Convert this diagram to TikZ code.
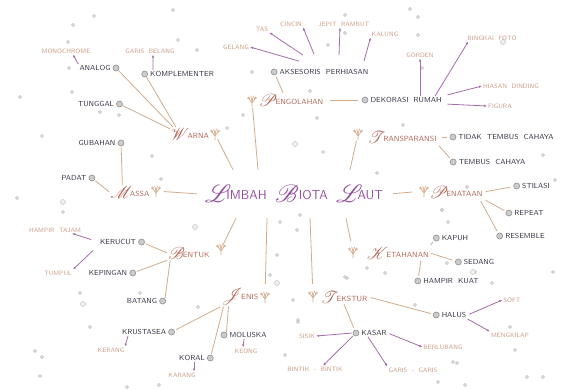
\documentclass[tikz,border=0pt]{standalone}
\usepackage{mathrsfs}
\usetikzlibrary{positioning,arrows.meta}

\definecolor{ungu}{RGB}{150,80,160}
\definecolor{cokelat}{RGB}{180,105,90}
\definecolor{tangkai}{RGB}{212,172,138}
\definecolor{pudar}{RGB}{205,158,138}
\definecolor{tinta}{RGB}{55,55,70}

% huruf awal berhias
\newcommand{\hias}[1]{{\fontsize{16}{16}\selectfont\raisebox{-1.5pt}{$\mathscr{#1}$}}\kern-2pt}
\newcommand{\hiasbesar}[2][-5pt]{{\fontsize{30}{30}\selectfont\raisebox{-3pt}{$\mathscr{#2}$}}\kern#1}

\tikzset{
  judul/.style={text=ungu, font=\fontsize{13}{13}\selectfont\sffamily,
    minimum width=190pt, minimum height=48pt, inner sep=0pt},
  cabang/.style={text=cokelat, font=\fontsize{7.5}{8}\selectfont\sffamily, inner sep=1pt},
  sub/.style={text=tinta, font=\fontsize{7.3}{8}\selectfont\sffamily, inner sep=1pt},
  ujung/.style={text=pudar, font=\fontsize{6.3}{7}\selectfont\sffamily, inner sep=1pt},
  bul/.style={circle, draw=gray!80, fill=gray!40, line width=0.7pt,
    minimum size=6pt, inner sep=0pt},
  titik/.style={circle, draw=gray!55, fill=gray!12, line width=0.4pt,
    minimum size=#1, inner sep=0pt},
  titik/.default=3pt,
  stem/.style={draw=tangkai, line width=0.8pt},
  arr/.style={draw=ungu!85, line width=0.8pt, -{Latex[length=3pt,width=2.4pt]}},
  daun/.pic={
    \draw[tangkai, line width=0.7pt, line cap=round]
      (0,6) -- (0,0) (0,2) -- (-3.5,-3) (0,2) -- (3.5,-3)
      (0,0) -- (-1.2,-5) (0,0) -- (1.5,-5);
    \draw[tangkai, line width=0.5pt] (-3.5,-3) circle (1) (3.5,-3) circle (1);
  }
}

\begin{document}
\begin{tikzpicture}[x=1pt,y=-1pt]
  \useasboundingbox[fill=white] (0,0) rectangle (564,390);

  % Bintik hiasan
  \foreach \p in {(73,25),(94,16),(68,42),(69,68),(72,92),(100,112),(119,115),
      (20,97),(178,40),(197,50),(173,10),(252,72),(310,91),(328,45),(345,15),
      (345,33),(317,118),(243,115),(410,9),(418,17),(418,35),(422,68),(403,125),
      (42,136),(152,156),(161,179),(17,198),(63,212),(227,128),(323,152),
      (280,222),(297,230),(300,215),(377,173),(543,155),(555,180),(467,187),
      (442,210),(448,222),(80,293),(90,327),(35,351),(42,357),(40,376),(140,293),
      (127,387),(159,385),(198,307),(277,255),(270,275),(293,300),(298,320),
      (347,278),(447,263),(475,272),(492,283),(415,305),(553,272),(510,327),
      (515,350),(457,363),(438,382),(527,377),(543,377),(465,385),(367,268),
      (385,273),(345,277),(442,210),(298,322),(285,355),(453,362)}
    \node[titik] at \p {};
  \foreach \p in {(63,202),(295,144),(195,227),(83,304),(503,42),(277,283),(473,272)}
    \node[titik=5pt] at \p {};

  % Pusat
  \node[judul] (limbah) at (294,194)
    {\hiasbesar{L}IMBAH\ \ \hiasbesar[0pt]{B}IOTA\ \ \hiasbesar{L}AUT};

  % Cabang utama
  \node[cabang] (warna) at (190,134) {\hias{W}ARNA};
  \node[cabang] (pengolahan) at (291,100) {\hias{P}ENGOLAHAN};
  \node[cabang] (transparansi) at (402,137) {\hias{T}RANSPARANSI};
  \node[cabang] (penataan) at (456,192) {\hias{P}ENATAAN};
  \node[cabang] (ketahanan) at (398,253) {\hias{K}ETAHANAN};
  \node[cabang] (tekstur) at (344,297) {\hias{T}EKSTUR};
  \node[cabang] (jenis) at (240,297) {\hias{J}ENIS};
  \node[cabang] (bentuk) at (189,253) {\hias{B}ENTUK};
  \node[cabang] (massa) at (130,192) {\hias{M}ASSA};

  % Hiasan karang
  \coordinate (dwarna) at (215,134);
  \coordinate (dpengolahan) at (252,101);
  \coordinate (dtransparansi) at (358,134);
  \coordinate (dpenataan) at (424,191);
  \coordinate (dketahanan) at (353,252);
  \coordinate (dtekstur) at (313,296);
  \coordinate (djenis) at (265,297);
  \coordinate (dbentuk) at (221,249);
  \coordinate (dmassa) at (156,191);
  \foreach \d in {dwarna,dpengolahan,dtransparansi,dpenataan,dketahanan,
      dtekstur,djenis,dbentuk,dmassa}
    \pic at (\d) {daun};

  % Tangkai ke pusat
  \draw[stem, shorten <=6pt] (dwarna) -- ([xshift=-61pt]limbah.north);
  \draw[stem, shorten <=7pt] (dpengolahan) -- ([xshift=-36pt]limbah.north);
  \draw[stem, shorten <=7pt] (dtransparansi) -- ([xshift=56pt]limbah.north);
  \draw[stem, shorten <=4pt, shorten >=12pt] (limbah.east) -- (dpenataan);
  \draw[stem, shorten <=8pt, shorten >=2pt] (dmassa) -- (limbah.west);
  \draw[stem, shorten >=11pt] ([xshift=52pt]limbah.south) -- (dketahanan);
  \draw[stem, shorten >=12pt] ([xshift=16pt]limbah.south) -- (dtekstur);
  \draw[stem, shorten >=13pt] ([xshift=-27pt]limbah.south) -- (djenis);
  \draw[stem, shorten >=5pt] ([xshift=-58pt]limbah.south) -- (dbentuk);

  % Warna
  \node[sub] (analog) at (95,68) {ANALOG};
  \node[bul, right=1pt of analog] (analogb) {};
  \node[sub] (komplementer) at (182,74) {KOMPLEMENTER};
  \node[bul, left=1pt of komplementer] (komplementerb) {};
  \node[sub] (tunggal) at (96,104) {TUNGGAL};
  \node[bul, right=1pt of tunggal] (tunggalb) {};
  \node[ujung] (monochrome) at (66,51) {MONOCHROME};
  \node[ujung] (belang) at (150,51) {GARIS\ \ BELANG};
  \draw[stem] (analogb) -- ([xshift=3pt]warna.north west);
  \draw[stem] (komplementerb) -- ([xshift=6pt]warna.north west);
  \draw[stem] (tunggalb) -- ([yshift=-2pt]warna.north west);
  \draw[arr] (analog.north west) -- ([xshift=7pt]monochrome.south);
  \draw[arr] ([xshift=4pt]komplementer.north west) -- ([xshift=3pt]belang.south);

  % Pengolahan
  \node[sub] (aksesoris) at (324,72) {AKSESORIS\ \ PERHIASAN};
  \node[bul, left=1pt of aksesoris] (aksesorisb) {};
  \node[sub] (dekorasi) at (406,100) {DEKORASI\ \ RUMAH};
  \node[bul, left=1pt of dekorasi] (dekorasib) {};
  \draw[stem, shorten <=2pt] (aksesorisb) -- ([xshift=-8pt]pengolahan.north);
  \draw[stem, shorten <=5pt, shorten >=4pt] (pengolahan.east) -- (dekorasib);
  \node[ujung] (gelang) at (236,47) {GELANG};
  \node[ujung] (tas) at (262,29) {TAS};
  \node[ujung] (cincin) at (291,24) {CINCIN};
  \node[ujung] (jepit) at (344,24) {JEPIT\ \ RAMBUT};
  \node[ujung] (kalung) at (385,34) {KALUNG};
  \draw[arr] ([xshift=-25pt,yshift=7pt]aksesoris.north) -- (gelang.east);
  \draw[arr] ([xshift=-21pt,yshift=13pt]aksesoris.north) -- (tas.south east);
  \draw[arr] ([xshift=-10pt,yshift=14pt]aksesoris.north) -- (cincin.south east);
  \draw[arr] ([xshift=15pt,yshift=13pt]aksesoris.north) -- ([xshift=-4pt]jepit.south);
  \draw[arr] ([xshift=40pt,yshift=7pt]aksesoris.north) -- (kalung.south west);
  \node[ujung] (gorden) at (420,55) {GORDEN};
  \node[ujung] (bingkai) at (492,38) {BINGKAI\ \ FOTO};
  \node[ujung] (hiasan) at (511,86) {HIASAN\ \ DINDING};
  \node[ujung] (figura) at (500,106) {FIGURA};
  \draw[arr] ([xshift=14pt]dekorasi.north) -- (gorden.south);
  \draw[arr] ([xshift=29pt]dekorasi.north) -- ([xshift=2pt]bingkai.south west);
  \draw[arr, shorten <=5pt] (dekorasi.north east) -- (hiasan.west);
  \draw[arr, shorten <=5pt] (dekorasi.south east) -- (figura.west);

  % Transparansi
  \node[sub] (tidak) at (506,137) {TIDAK\ \ TEMBUS\ \ CAHAYA};
  \node[bul, left=1pt of tidak] (tidakb) {};
  \node[sub] (tembus) at (492,162) {TEMBUS\ \ CAHAYA};
  \node[bul, left=1pt of tembus] (tembusb) {};
  \draw[stem, shorten <=4pt, shorten >=3pt] (transparansi.east) -- (tidakb);
  \draw[stem, shorten <=2pt, shorten >=2pt] (transparansi.south east) -- (tembusb);

  % Penataan
  \node[sub] (stilasi) at (536,186) {STILASI};
  \node[bul, left=1pt of stilasi] (stilasib) {};
  \node[sub] (repeat) at (529,213) {REPEAT};
  \node[bul, left=1pt of repeat] (repeatb) {};
  \node[sub] (resemble) at (525,236) {RESEMBLE};
  \node[bul, left=1pt of resemble] (resembleb) {};
  \draw[stem, shorten <=2pt, shorten >=3pt] (penataan.east) -- (stilasib);
  \draw[stem, shorten <=2pt, shorten >=2pt] (penataan.south east) -- (repeatb);
  \draw[stem, shorten <=2pt, shorten >=2pt] ([xshift=-4pt]penataan.south east) -- (resembleb);

  % Ketahanan
  \node[sub] (kapuh) at (455,238) {KAPUH};
  \node[bul, left=1pt of kapuh] (kapuhb) {};
  \node[sub] (sedang) at (479,262) {SEDANG};
  \node[bul, left=1pt of sedang] (sedangb) {};
  \node[sub] (hampir) at (451,281) {HAMPIR\ \ KUAT};
  \node[bul, left=1pt of hampir] (hampirb) {};
  \draw[stem, shorten <=1pt, shorten >=2pt] (ketahanan.north east) -- (kapuhb);
  \draw[stem, shorten <=1pt, shorten >=3pt] (ketahanan.east) -- (sedangb);
  \draw[stem, shorten >=2pt] ([xshift=-9pt]ketahanan.south east) -- (hampirb);

  % Tekstur
  \node[sub] (halus) at (454,315) {HALUS};
  \node[bul, left=1pt of halus] (halusb) {};
  \node[sub] (kasar) at (374,333) {KASAR};
  \node[bul, left=1pt of kasar] (kasarb) {};
  \draw[stem, shorten <=2pt, shorten >=2pt] (tekstur.east) -- (halusb);
  \draw[stem, shorten >=2pt] (tekstur.south) -- (kasarb);
  \node[ujung] (soft) at (512,300) {SOFT};
  \node[ujung] (mengkilap) at (510,335) {MENGKILAP};
  \draw[arr, shorten <=2pt] (halus.east) -- (soft.west);
  \draw[arr] (halus.south east) -- (mengkilap.north west);
  \node[ujung] (sisik) at (307,336) {SISIK};
  \node[ujung] (bintik) at (315,369) {BINTIK\ \ -\ \ BINTIK};
  \node[ujung] (garis) at (413,370) {GARIS\ \ -\ \ GARIS};
  \node[ujung] (berlubang) at (443,347) {BERLUBANG};
  \draw[arr, shorten <=1pt] (kasarb.west) -- (sisik.east);
  \draw[arr, shorten <=1pt] (kasarb.south west) -- ([xshift=8pt]bintik.north);
  \draw[arr] ([xshift=-6pt]kasar.south) -- (garis.north west);
  \draw[arr, shorten <=2pt] (kasar.east) -- (berlubang.west);

  % Jenis
  \node[sub] (moluska) at (248,335) {MOLUSKA};
  \node[bul, left=1pt of moluska] (moluskab) {};
  \node[sub] (koral) at (192,358) {KORAL};
  \node[bul, right=1pt of koral] (koralb) {};
  \node[sub] (krustasea) at (144,332) {KRUSTASEA};
  \node[bul, right=1pt of krustasea] (krustaseab) {};
  \draw[stem] ([xshift=8pt]jenis.south west) -- (moluskab.north east);
  \draw[stem, shorten >=1pt] ([xshift=3pt]jenis.south west) -- (koralb);
  \draw[stem, shorten >=2pt] (jenis.south west) -- (krustaseab);
  \node[ujung] (keong) at (246,351) {KEONG};
  \node[ujung] (karang) at (182,375) {KARANG};
  \node[ujung] (kerang) at (111,350) {KERANG};
  \draw[arr] ([xshift=-4pt]moluska.south) -- ([xshift=-3pt]keong.north);
  \draw[arr] ([xshift=2pt]koral.south) -- ([xshift=12pt]karang.north);
  \draw[arr] ([xshift=-16pt]krustasea.south) -- ([xshift=14pt]kerang.north);

  % Bentuk
  \node[sub] (kerucut) at (118,242) {KERUCUT};
  \node[bul, right=1pt of kerucut] (kerucutb) {};
  \node[sub] (kepingan) at (108,273) {KEPINGAN};
  \node[bul, right=1pt of kepingan] (kepinganb) {};
  \node[sub] (batang) at (142,301) {BATANG};
  \node[bul, right=1pt of batang] (batangb) {};
  \draw[stem, shorten <=1pt] (kerucutb) -- (bentuk.west);
  \draw[stem, shorten <=1pt] (kepinganb) -- (bentuk.south west);
  \draw[stem] ([xshift=3pt]bentuk.south west) -- (batangb.north east);
  \node[ujung] (tajam) at (55,230) {HAMPIR\ \ TAJAM};
  \node[ujung] (tumpul) at (58,273) {TUMPUL};
  \draw[arr, shorten <=8pt] (kerucut.west) -- ([xshift=17pt]tajam.south);
  \draw[arr, shorten <=8pt] ([yshift=-3pt]kerucut.west) -- (tumpul.north east);

  % Massa
  \node[sub] (gubahan) at (97,143) {GUBAHAN};
  \node[bul, right=1pt of gubahan] (gubahanb) {};
  \node[sub] (padat) at (74,178) {PADAT};
  \node[bul, right=1pt of padat] (padatb) {};
  \draw[stem, shorten <=1pt] (gubahanb) -- ([xshift=13pt]massa.north west);
  \draw[stem, shorten <=1pt] (padatb) -- (massa.west);
\end{tikzpicture}
\end{document}
